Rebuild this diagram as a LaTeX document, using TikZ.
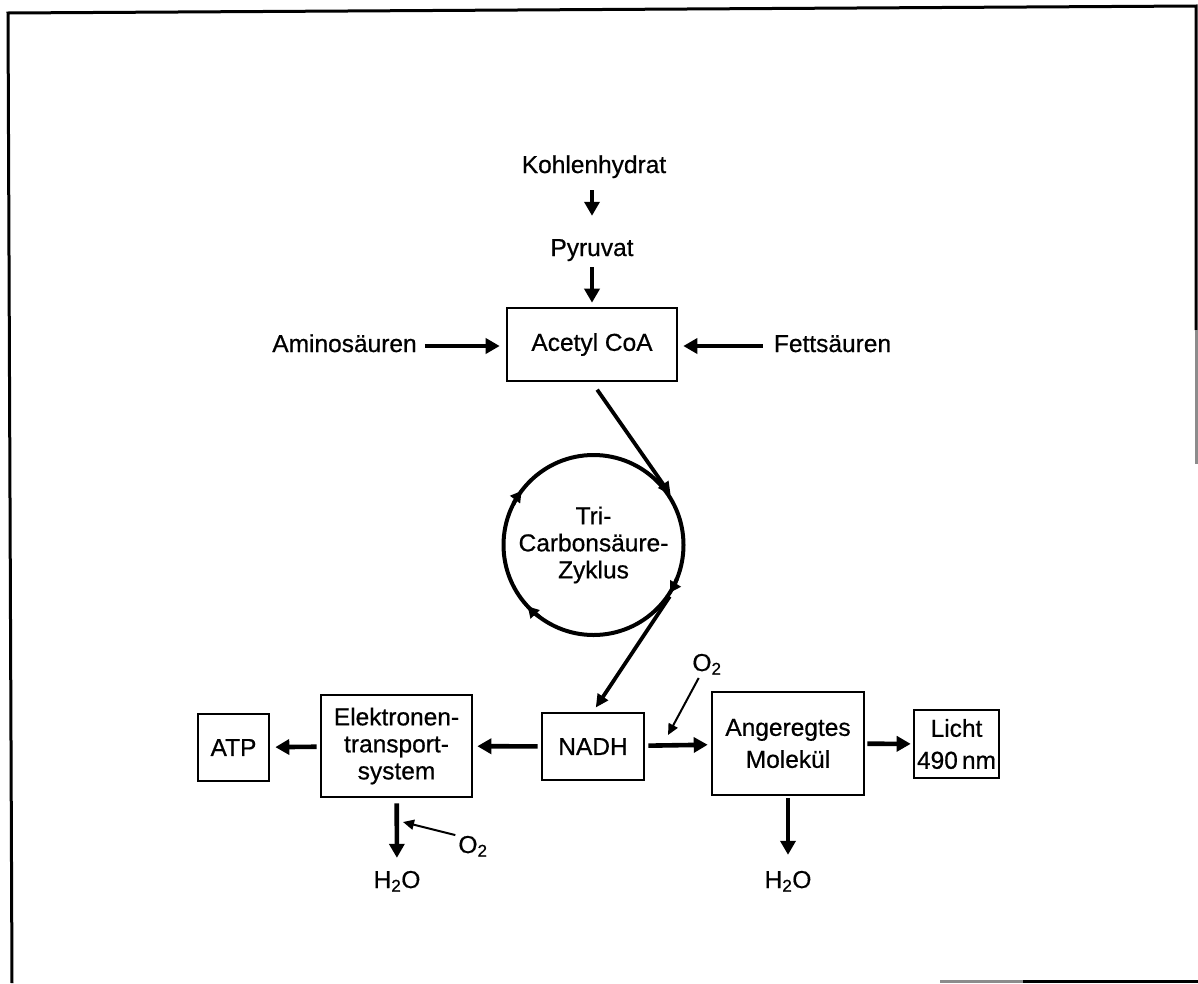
\documentclass[tikz,border=0pt]{standalone}
\usepackage{fontspec}
\setmainfont{Liberation Sans}[FakeBold=0.6]
\usetikzlibrary{arrows.meta,calc}
\begin{document}
\begin{tikzpicture}[x=1pt,y=-1pt,
  every node/.style={font=\fontsize{24.5}{27}\selectfont},
  lbl/.style={inner sep=0pt, text height=17pt, text depth=5pt},
  box/.style={draw, line width=2.6pt, inner sep=0pt, align=center},
  fat/.style={line width=4.6pt, -{Triangle[length=14pt,width=15pt]}},
  slim/.style={line width=2pt, -{Triangle[length=11pt,width=10pt]}},
  diag/.style={line width=3.8pt, -{Triangle[length=13pt,width=12pt]}},
  cycarrow/.style={line width=4pt, -{Triangle[length=11pt,width=12pt]}},
  rahmen/.style={line width=3pt, line join=miter}
]
\useasboundingbox (0,0) rectangle (1198,983);

% frame
\draw[rahmen] (12,983) -- (8,13) -- (1196,6) -- (1196,330);
\draw[rahmen, black!45] (1196,330) -- (1196,464);
\draw[rahmen, black!45] (940,981) -- (1023,981);
\draw[rahmen] (1023,981) -- (1198,981);

% top part
\node[lbl] (kohlen) at (594,167) {Kohlenhydrat};
\node[lbl] (pyr) at (592,250) {Pyruvat};
\node[box, minimum width=170pt, minimum height=73pt] (acetyl) at (592,344.5) {Acetyl CoA};
\node[lbl] (amino) at (344.5,346) {Aminosäuren};
\node[lbl] (fett) at (832.5,346) {Fettsäuren};

\draw[fat, shorten <=12pt, shorten >=23pt] (pyr.north |- kohlen.south) -- (pyr.north);
\draw[fat, shorten <=6pt, shorten >=4pt] (pyr) -- (acetyl);
\draw[fat, shorten <=8pt, shorten >=6pt] (amino.east) -- (amino.east -| acetyl.west);
\draw[fat, shorten <=11pt, shorten >=5pt] (fett.west) -- (fett.west -| acetyl.east);

% cycle
\node[draw, circle, line width=4pt, minimum size=180pt, inner sep=0pt, align=center] (tcc) at (593.5,545) {Tri-\\Carbonsäure-\\Zyklus};
\foreach \a in {143,223,-32}
  \draw[cycarrow] ($(tcc.center)+(\a+10:90pt)$) arc[start angle=\a+10, end angle=\a, radius=90pt];

% bottom row
\node[box, minimum width=102pt, minimum height=67pt] (nadh) at (593,746.5) {NADH};
\node[box, minimum width=151pt, minimum height=102pt] (ets) at (396.5,746) {Elektronen-\\transport-\\system};
\node[box, minimum width=71pt, minimum height=67pt] (atp) at (233.5,747.5) {ATP};
\node[box, minimum width=152pt, minimum height=103pt, font=\fontsize{24.5}{32}\selectfont] (ang) at (788,743.5) {Angeregtes\\Molekül};
\node[box, minimum width=85pt, minimum height=68pt, font=\fontsize{24.5}{32}\selectfont] (licht) at (956.5,744) {Licht\\490\,nm};
\node[lbl] (h2oL) at (397,882) {H\textsubscript{2}O};
\node[lbl] (h2oR) at (788,882) {H\textsubscript{2}O};
\node[lbl] (o2L) at (473,847) {O\textsubscript{2}};
\node[lbl] (o2R) at (707,665) {O\textsubscript{2}};
\coordinate (tipL) at (403,822);
\coordinate (tipR) at (668,735);

\draw[diag, shorten <=9pt] (acetyl.south) -- (tcc.33);
\draw[diag, shorten >=5pt] (tcc.-34) -- (nadh.north);

\draw[fat, shorten <=3pt, shorten >=4pt] (nadh) -- (ets);
\draw[fat, shorten <=3pt, shorten >=5pt] (ets) -- (atp);
\draw[fat, shorten <=3pt, shorten >=3pt] (nadh) -- (ang);
\draw[fat, shorten <=2pt, shorten >=2pt] (ang) -- (licht);
\draw[fat, shorten <=5pt, shorten >=13pt] (ets) -- (h2oL);
\draw[fat, shorten <=2pt, shorten >=16pt] (ang) -- (h2oR);

\draw[slim, shorten <=3pt] (o2L.north west) -- (tipL);
\draw[slim, shorten <=2pt] ($(o2R.south)!0.5!(o2R.south west)$) -- (tipR);
\end{tikzpicture}
\end{document}
